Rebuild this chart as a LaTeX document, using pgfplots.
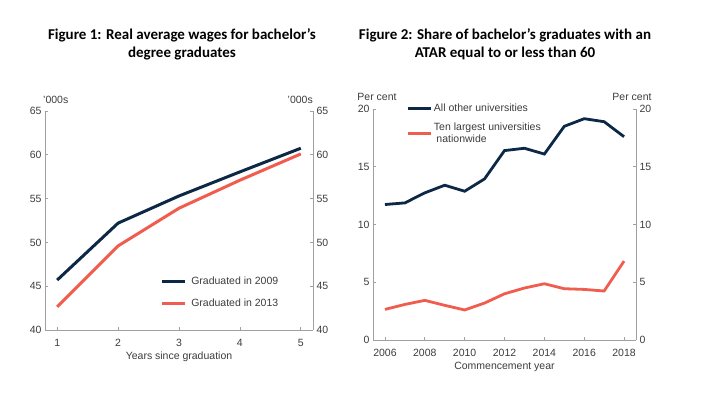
\documentclass[border=0pt]{standalone}
\usepackage{fontspec}
\setmainfont{Liberation Sans}
\newfontfamily\titlefont{Carlito}
\usepackage{pgfplots}
\pgfplotsset{compat=1.18}
\definecolor{navy}{RGB}{12,40,70}
\definecolor{salmon}{RGB}{240,92,78}
\definecolor{axgray}{RGB}{160,160,160}
\definecolor{txtgray}{RGB}{60,60,60}
\newcommand{\lbl}{\fontsize{10.5}{11.5}\selectfont}
\pgfplotsset{
  rba/.style={
    scale only axis,
    axis x line*=bottom, axis y line*=left,
    axis line style={axgray, line width=0.8pt},
    tick style={axgray, line width=0.8pt},
    major tick length=3pt,
    tick align=inside,
    ticklabel style={font=\lbl, text=txtgray},
    label style={font=\lbl, text=txtgray},
    /pgf/number format/assume math mode=true,
    /pgf/number format/1000 sep={},
    xticklabel style={anchor=center, yshift=-13pt},
    clip=false,
  },
  twin/.style={
    scale only axis,
    axis x line=none, axis y line*=right,
    axis line style={axgray, line width=0.8pt},
    tick style={axgray, line width=0.8pt},
    major tick length=3pt,
    tick align=inside,
    ticklabel style={font=\lbl, text=txtgray},
    /pgf/number format/assume math mode=true,
  },
  legend image code/.code={\draw[#1] (0pt,0pt) -- (23pt,0pt);},
}
\begin{document}
\begin{tikzpicture}[x=1pt,y=1pt]
\path[use as bounding box] (0,0) rectangle (701,393);
% titles
\node[align=center, font=\titlefont\bfseries\fontsize{15}{18}\selectfont] at (182,349) {Figure 1: Real average wages for bachelor’s\\degree graduates};
\node[align=center, font=\titlefont\bfseries\fontsize{15}{18}\selectfont] at (505,349) {Figure 2: Share of bachelor’s graduates with an\\ATAR equal to or less than 60};
% unit labels
\node[anchor=west, font=\lbl, text=txtgray, inner sep=0] at (43,293) {’000s};
\node[anchor=east, font=\lbl, text=txtgray, inner sep=0] at (313,293) {’000s};
\node[font=\lbl, text=txtgray, inner sep=0] at (377,296) {Per cent};
\node[font=\lbl, text=txtgray, inner sep=0] at (632,296) {Per cent};

% Figure 1
\begin{axis}[rba, at={(45pt,63pt)}, anchor=south west,
  width=268pt, height=219pt,
  xmin=0.8, xmax=5.2, ymin=40, ymax=65,
  xtick={1,2,3,4,5}, ytick={40,45,50,55,60,65},
  xlabel={Years since graduation},
  xlabel style={anchor=center, at={(axis description cs:0.5,0)}, yshift=-27pt},
  legend style={at={(axis description cs:0.42,0.262)}, anchor=north west,
    draw=none, fill=none, font=\lbl, text=txtgray, row sep=9pt,
    nodes={inner xsep=4.5pt}},
  legend cell align=left,
]
\addplot[navy, line width=3pt] coordinates {(1,45.7) (2,52.2) (3,55.3) (4,58.05) (5,60.75)};
\addlegendentry{Graduated in 2009}
\addplot[salmon, line width=3pt] coordinates {(1,42.65) (2,49.6) (3,53.9) (4,57.1) (5,60.1)};
\addlegendentry{Graduated in 2013}
\end{axis}
\begin{axis}[twin, at={(45pt,63pt)}, anchor=south west,
  width=268pt, height=219pt,
  xmin=0.8, xmax=5.2, ymin=40, ymax=65, ytick={40,45,50,55,60,65}]
\addplot[draw=none] coordinates {(1,40)};
\end{axis}

% Figure 2
\begin{axis}[rba, at={(373pt,53pt)}, anchor=south west,
  width=263pt, height=231pt,
  xmin=2005.4, xmax=2018.6, ymin=0, ymax=20,
  xtick={2006,2008,2010,2012,2014,2016,2018}, ytick={0,5,10,15,20},
  xlabel={Commencement year},
  xlabel style={anchor=center, at={(axis description cs:0.5,0)}, yshift=-26.5pt},
  legend style={at={(axis description cs:0.114,1.04)}, anchor=north west,
    draw=none, fill=none, font=\lbl, text=txtgray, row sep=6pt,
    nodes={align=left}},
  legend cell align=left,
]
\addplot[navy, line width=2.8pt] coordinates {(2006,11.73) (2007,11.87) (2008,12.74) (2009,13.4) (2010,12.88) (2011,13.95) (2012,16.4) (2013,16.6) (2014,16.1) (2015,18.5) (2016,19.16) (2017,18.9) (2018,17.6)};
\addlegendentry{All other universities}
\addplot[salmon, line width=2.8pt] coordinates {(2006,2.65) (2007,3.08) (2008,3.43) (2009,3.0) (2010,2.6) (2011,3.2) (2012,4.0) (2013,4.5) (2014,4.87) (2015,4.44) (2016,4.38) (2017,4.24) (2018,6.83)};
\addlegendentry{Ten largest universities\\\hspace*{2.5pt}nationwide}
\end{axis}
\begin{axis}[twin, at={(373pt,53pt)}, anchor=south west,
  width=263pt, height=231pt,
  xmin=2005.4, xmax=2018.6, ymin=0, ymax=20, ytick={0,5,10,15,20}]
\addplot[draw=none] coordinates {(2006,0)};
\end{axis}
\end{tikzpicture}
\end{document}
